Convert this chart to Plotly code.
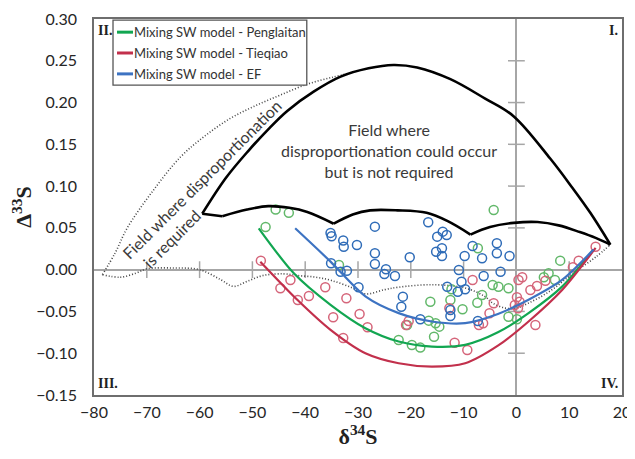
import plotly.graph_objects as go

# ---------------- data ----------------
# solid black: big upper arc
arc_x = [-59.5, -55, -50.8, -47, -43.4, -38.4, -33.3, -28, -23.3, -18.8, -12.5, -6, -0.6, 6.4, 10.6, 14, 17.8]
arc_y = [0.067, 0.110, 0.142, 0.168, 0.190, 0.213, 0.231, 0.241, 0.245, 0.242, 0.228, 0.205, 0.184, 0.133, 0.098, 0.068, 0.030]

# solid black: lower wavy boundary (arcs separated by None)
wavy_x = [-59.5, -55.7, None,
          -55.7, -51, -47, -43, -39.6, -34.6, None,
          -34.6, -31, -27.7, -22.5, -17, -13, -8.7, None,
          -8.7, -5, -0.5, 4, 8, 12, 15, 17.8]
wavy_y = [0.067, 0.064, None,
          0.064, 0.072, 0.076, 0.074, 0.069, 0.055, None,
          0.055, 0.066, 0.071, 0.071, 0.068, 0.058, 0.042, None,
          0.042, 0.051, 0.056, 0.057, 0.053, 0.045, 0.038, 0.030]

# dotted: outer boundary (disproportionation required)
dot_out_x = [-78.4, -76, -73.7, -69, -63.6, -59, -54.2, -49.5, -44.7, -39.6, -35, -31]
dot_out_y = [-0.006, 0.020, 0.050, 0.093, 0.135, 0.160, 0.181, 0.196, 0.209, 0.222, 0.230, 0.236]

# dotted: lower boundary
dot_low_x = [-78.4, -75, -72, -70, -65, -60, -56, -53.6, -51, -48, -44, -41.5, -38, -35, -31, -28.6,
             -25, -22.3, -15.9, -9.7, -6, -4.5, -2.1, 0, 2.3, 5, 7.4, 9.6, 11.7, 15, 17.8]
dot_low_y = [-0.006, -0.009, -0.004, 0.001, 0.002, 0.000, -0.012, -0.020, -0.014, -0.007, -0.005, -0.007, -0.009, -0.013, -0.022, -0.029,
             -0.024, -0.021, -0.018, -0.022, -0.032, -0.040, -0.046, -0.046, -0.040, -0.031, -0.021, -0.010, 0.000, 0.015, 0.030]

# mixing model curves
peng_x = [-48.8, -42.2, -35.2, -28.6, -22.3, -16, -9.7, -3.5, 2.3, 8.7, 14.6]
peng_y = [0.0495, -0.004, -0.042, -0.070, -0.086, -0.092, -0.090, -0.075, -0.052, -0.020, 0.024]

tieq_x = [-48.5, -41.5, -35.2, -28.6, -22.3, -16, -9.7, -3.5, 2.3, 8.7, 15]
tieq_y = [0.0096, -0.036, -0.072, -0.100, -0.112, -0.116, -0.112, -0.091, -0.062, -0.024, 0.026]

ef_x = [-41.9, -35.2, -28.6, -22.3, -16, -9.7, -3.5, 2.3, 8.7, 14.6]
ef_y = [0.0495, 0.0096, -0.032, -0.052, -0.062, -0.064, -0.053, -0.036, -0.012, 0.024]

# measured data points
peng_pts_x = [-45.6, -43.1, -47.5, -33.6, -4.3, -7.3, -4.5, -3.4, -12.3, -16.3, -12.5, -6.5, -7.4, -10.2,
              -20.7, -16.6, -15.3, -14.6, -15.6, -22.3, -19.8, -18.2, 8.3, 6.1, 5.2, 7.3, -1.5, -1.5, 0.1]
peng_pts_y = [0.072, 0.068, 0.051, 0.0056, 0.0714, 0.0256, -0.0184, -0.0204, -0.0235, -0.0383, -0.0363, -0.0303, -0.0395, -0.0474,
              -0.0662, -0.061, -0.0642, -0.0682, -0.0802, -0.0842, -0.0902, -0.0933, 0.0108, -0.0043, -0.0091, -0.0124, -0.0223, -0.0563, -0.0594]

tieq_pts_x = [-48.4, -42.8, -44.7, -36.2, -39.3, -41.4, -32.2, -34.7, -29.7, -32.8, -28.2,
              -8.3, -4.3, -5.1, -12.7, -20.4, -20.9, -7.1, -6.3, -11.7, -9.3,
              15.0, 11.8, 10.7, 1.1, 0.4, 5.5, 3.9, 2.65, 0.1, 0.6, -0.3, 0.3, 3.6]
tieq_pts_y = [0.0108, -0.0124, -0.0223, -0.021, -0.0315, -0.0363, -0.0343, -0.057, -0.053, -0.0818, -0.069,
              -0.0124, -0.0402, -0.0522, -0.0462, -0.0614, -0.0662, -0.0662, -0.0642, -0.0874, -0.0962,
              0.0275, 0.0108, 0.0029, -0.0091, -0.0124, -0.0132, -0.0195, -0.0243, -0.0331, -0.0383, -0.0423, -0.0462, -0.0662]

ef_pts_x = [-35.2, -35.0, -32.8, -32.7, -30.2, -35.1, -33.3, -32.1, -29.9,
            -26.8, -16.7, -15.0, -13.95, -13.2, -15.2, -14.1, -14.1, -26.8, -26.8, -20.2, -24.7, -25.0, -23.0,
            -10.9, -9.8, -8.3, -6.5, -3.7, -3.7, -6.2, -3.0, -10.4, -13.1, -11.1, -9.7, -21.5, -21.8,
            -12.5, -12.5, -18.2, -7.3, -1.3]
ef_pts_y = [0.044, 0.040, 0.035, 0.0275, 0.0295, 0.0076, -0.0024, -0.0012, -0.021,
            0.0515, 0.0567, 0.0395, 0.0455, 0.0415, 0.0215, 0.0256, 0.0164, 0.0196, 0.0068, 0.0148, 0.0004, -0.0052, -0.0076,
            -0.0004, 0.0164, 0.0284, 0.0136, 0.0316, 0.0196, -0.0076, -0.0024, -0.0144, -0.0204, -0.0264, -0.0235, -0.0323, -0.0443,
            -0.0483, -0.0555, -0.0594, -0.0614, 0.0164]

# tick marks drawn on the zero-crossing axes
xaxis_ticks = [-70, -60, -50, -40, -30, -20, -10, 10]
yaxis_ticks = [0.25, 0.20, 0.15, 0.10, 0.05, -0.05, -0.10]

legend_names = ["Mixing SW model - Penglaitan", "Mixing SW model - Tieqiao", "Mixing SW model - EF"]
line_colors = ["#12a651", "#c2304c", "#3d73c2"]
point_colors = ["#62b86a", "#d5657a", "#2f6cb8"]

# ---------------- figure ----------------
fig = go.Figure()

# zero-crossing axis tick marks
fig.add_trace(go.Scatter(x=xaxis_ticks, y=[0] * len(xaxis_ticks), mode="markers",
                         marker=dict(symbol="line-ns", size=12, line=dict(color="#a6a6a6", width=1.5)),
                         showlegend=False, hoverinfo="skip"))
fig.add_trace(go.Scatter(x=[0] * len(yaxis_ticks), y=yaxis_ticks, mode="markers",
                         marker=dict(symbol="line-ew", size=12, line=dict(color="#a6a6a6", width=1.5)),
                         showlegend=False, hoverinfo="skip"))

# dotted boundaries
dotted = dict(color="#444444", width=1.6, dash="1px,2px", shape="spline")
fig.add_trace(go.Scatter(x=dot_out_x, y=dot_out_y, mode="lines", line=dotted, showlegend=False))
fig.add_trace(go.Scatter(x=dot_low_x, y=dot_low_y, mode="lines", line=dotted, showlegend=False))

# data points
for px, py, c in [(peng_pts_x, peng_pts_y, point_colors[0]),
                  (tieq_pts_x, tieq_pts_y, point_colors[1]),
                  (ef_pts_x, ef_pts_y, point_colors[2])]:
    fig.add_trace(go.Scatter(x=px, y=py, mode="markers",
                             marker=dict(symbol="circle-open", size=9, color=c, line=dict(width=1.5)),
                             showlegend=False))

# model curves
for lx, ly, c, n in [(peng_x, peng_y, line_colors[0], legend_names[0]),
                     (tieq_x, tieq_y, line_colors[1], legend_names[1]),
                     (ef_x, ef_y, line_colors[2], legend_names[2])]:
    fig.add_trace(go.Scatter(x=lx, y=ly, mode="lines", name=n,
                             line=dict(color=c, width=2.2, shape="spline", smoothing=0.8),
                             showlegend=False))

# black boundaries
fig.add_trace(go.Scatter(x=arc_x, y=arc_y, mode="lines", line=dict(color="black", width=2.6, shape="spline"),
                         showlegend=False))
fig.add_trace(go.Scatter(x=wavy_x, y=wavy_y, mode="lines", line=dict(color="black", width=2.6, shape="spline"),
                         connectgaps=False, showlegend=False))

axis_font = dict(family="Lato", size=16, color="#262626")
fig.update_xaxes(range=[-80, 20], dtick=10, tick0=-80, showgrid=False, automargin=False,
                 zeroline=True, zerolinecolor="#a6a6a6", zerolinewidth=1.5,
                 showline=True, linecolor="#6e6e6e", linewidth=1.5, mirror=True,
                 ticks="", ticklen=0, tickfont=axis_font, ticklabelstandoff=2, ticklabeloverflow="allow",
                 title=dict(text="<b>δ<sup>34</sup>S</b>", font=dict(family="Liberation Serif", size=22, color="#222222"),
                            standoff=8))
fig.update_yaxes(range=[-0.15, 0.30], dtick=0.05, tick0=-0.15, tickformat=".2f", showgrid=False, automargin=False,
                 zeroline=True, zerolinecolor="#a6a6a6", zerolinewidth=1.5,
                 showline=True, linecolor="#6e6e6e", linewidth=1.5, mirror=True,
                 ticks="", ticklen=0, tickfont=axis_font, ticklabelstandoff=12,
                 title=dict(text="<b>Δ<sup>33</sup>S</b>", font=dict(family="Liberation Serif", size=22, color="#222222"),
                            standoff=0))

# custom legend box
lx0, lx1, ly0, ly1 = 0.036, 0.403, 0.824, 0.997
shapes = [dict(type="rect", xref="paper", yref="paper", x0=lx0, x1=lx1, y0=ly0, y1=ly1,
               line=dict(color="#555555", width=1.3), fillcolor="white", layer="above")]
annotations = []
entry_y = [0.965, 0.9096, 0.854]
for name, c, ey in zip(legend_names, line_colors, entry_y):
    shapes.append(dict(type="line", xref="paper", yref="paper", x0=0.0436, x1=0.0739, y0=ey, y1=ey,
                       line=dict(color=c, width=3), layer="above"))
    annotations.append(dict(xref="paper", yref="paper", x=0.0725, y=ey, text=name, showarrow=False,
                            xanchor="left", yanchor="middle",
                            font=dict(family="Lato", size=13, color="#333333")))

# quadrant labels
qfont = dict(family="Liberation Serif", size=14, color="#222222")
annotations += [
    dict(xref="paper", yref="paper", x=0.004, y=0.995, text="<b>II.</b>", showarrow=False, xanchor="left", yanchor="top", font=qfont),
    dict(xref="paper", yref="paper", x=0.996, y=0.995, text="<b>I.</b>", showarrow=False, xanchor="right", yanchor="top", font=qfont),
    dict(xref="paper", yref="paper", x=0.004, y=0.005, text="<b>III.</b>", showarrow=False, xanchor="left", yanchor="bottom", font=qfont),
    dict(xref="paper", yref="paper", x=0.996, y=0.005, text="<b>IV.</b>", showarrow=False, xanchor="right", yanchor="bottom", font=qfont),
]

# field annotations
annotations.append(dict(x=-24.2, y=0.143, text="Field where<br>disproportionation could occur<br>but is not required",
                        showarrow=False, xanchor="center", yanchor="middle", align="center",
                        font=dict(family="Lato", size=16, color="#3a3a3a")))
annotations.append(dict(x=-58.3, y=0.099, text="Field where disproportionation<br>&nbsp;&nbsp;is required",
                        showarrow=False, xanchor="center", yanchor="middle", align="left", textangle=-45,
                        font=dict(family="Lato", size=16, color="#3a3a3a")))

# the page adds an 8 px body margin, so the figure is offset accordingly
fig.update_layout(width=627, height=443, margin=dict(l=86, r=13, t=11, b=56),
                  paper_bgcolor="white", plot_bgcolor="white",
                  shapes=shapes, annotations=annotations, showlegend=False)

fig.write_html("out.html")
